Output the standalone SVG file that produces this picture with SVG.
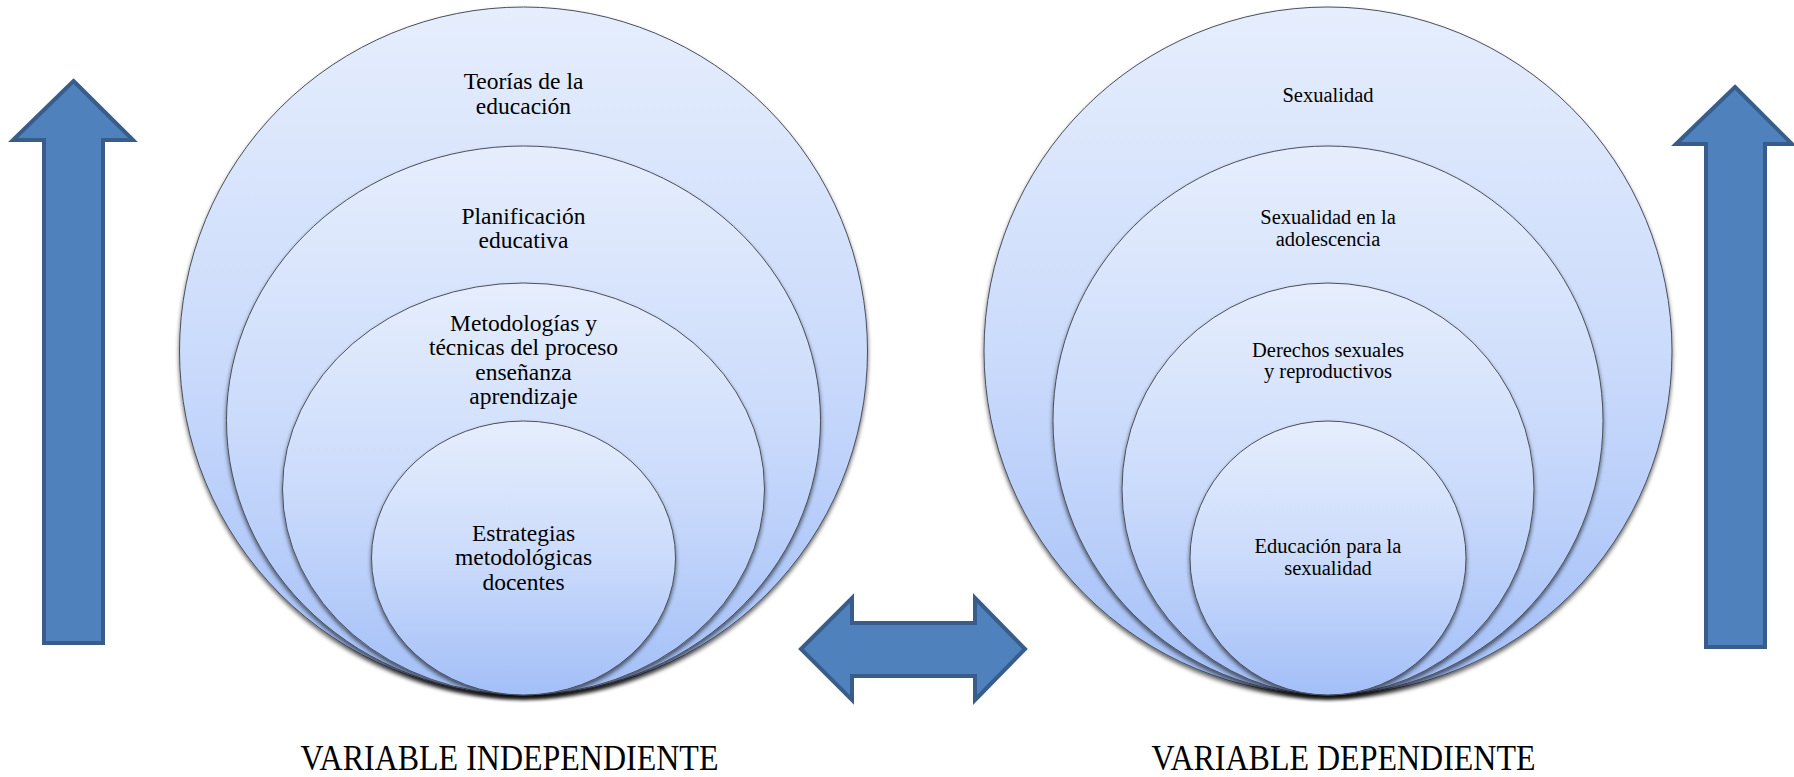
<svg xmlns="http://www.w3.org/2000/svg" width="1794" height="777" viewBox="0 0 1794 777">
<defs>
<linearGradient id="g" x1="0" y1="0" x2="0" y2="1">
<stop offset="0" stop-color="#e6eefd"/>
<stop offset="0.5" stop-color="#cbdbfb"/>
<stop offset="1" stop-color="#a3bff8"/>
</linearGradient>
<filter id="sh" x="-10%" y="-10%" width="120%" height="125%">
<feGaussianBlur in="SourceAlpha" stdDeviation="2"/>
<feOffset dx="0" dy="3" result="b"/>
<feComponentTransfer><feFuncA type="linear" slope="0.6"/></feComponentTransfer>
<feMerge><feMergeNode/><feMergeNode in="SourceGraphic"/></feMerge>
</filter>
</defs>
<style>
.c{fill:url(#g);stroke:#4a4f5c;stroke-width:1;filter:url(#sh)}
.t{font-family:"Liberation Serif","Times New Roman",serif;fill:#000;text-anchor:middle}
.l{font-size:23.5px}
.r{font-size:20.5px}
.v{font-size:32px}
.a{fill:#4f81bd;stroke:#385d8a;stroke-width:4;stroke-linejoin:miter}
</style>
<g id="left" font-family="Liberation Serif, serif">
<g id="l1"><ellipse class="c" cx="523.5" cy="351" rx="344" ry="344"/><text class="t l" x="523.5" y="89">Teorías de la</text><text class="t l" x="523.5" y="114">educación</text></g>
<g id="l2"><ellipse class="c" cx="523.5" cy="420.5" rx="297" ry="274.5"/><text class="t l" x="523.5" y="224">Planificación</text><text class="t l" x="523.5" y="248">educativa</text></g>
<g id="l3"><ellipse class="c" cx="523.5" cy="489" rx="241" ry="206"/><text class="t l" x="523.5" y="331">Metodologías y</text><text class="t l" x="523.5" y="355">técnicas del proceso</text><text class="t l" x="523.5" y="380">enseñanza</text><text class="t l" x="523.5" y="404">aprendizaje</text></g>
<g id="l4"><ellipse class="c" cx="523.5" cy="558" rx="152" ry="137"/><text class="t l" x="523.5" y="541">Estrategias</text><text class="t l" x="523.5" y="565">metodológicas</text><text class="t l" x="523.5" y="590">docentes</text></g>
</g>
<g id="right" font-family="Liberation Serif, serif">
<g id="r1"><ellipse class="c" cx="1328" cy="351" rx="344" ry="344"/><text class="t r" x="1328" y="101.5">Sexualidad</text></g>
<g id="r2"><ellipse class="c" cx="1328" cy="420.5" rx="275" ry="274.5"/><text class="t r" x="1328" y="224">Sexualidad en la</text><text class="t r" x="1328" y="246">adolescencia</text></g>
<g id="r3"><ellipse class="c" cx="1328" cy="489" rx="206" ry="206"/><text class="t r" x="1328" y="357">Derechos sexuales</text><text class="t r" x="1328" y="378">y reproductivos</text></g>
<g id="r4"><ellipse class="c" cx="1328" cy="558" rx="138" ry="137"/><text class="t r" x="1328" y="553">Educación para la</text><text class="t r" x="1328" y="575">sexualidad</text></g>
</g>
<g id="arrow-left"><polygon class="a" points="73.5,81 133,140 103,140 103,643 44,643 44,140 13,140"/></g>
<g id="arrow-right"><polygon class="a" points="1735,87 1792,144 1765,144 1765,647 1706,647 1706,144 1676,144"/></g>
<g id="arrow-double"><polygon class="a" points="801,649 852,598 852,623 975,623 975,598 1025,649 975,700 975,676 852,676 852,700"/></g>
<g id="labels" font-family="Liberation Serif, serif">
<text class="t v" transform="translate(509.5,770) scale(1,1.15)">VARIABLE INDEPENDIENTE</text>
<text class="t v" transform="translate(1343.5,770) scale(1,1.15)">VARIABLE DEPENDIENTE</text>
</g>
</svg>
